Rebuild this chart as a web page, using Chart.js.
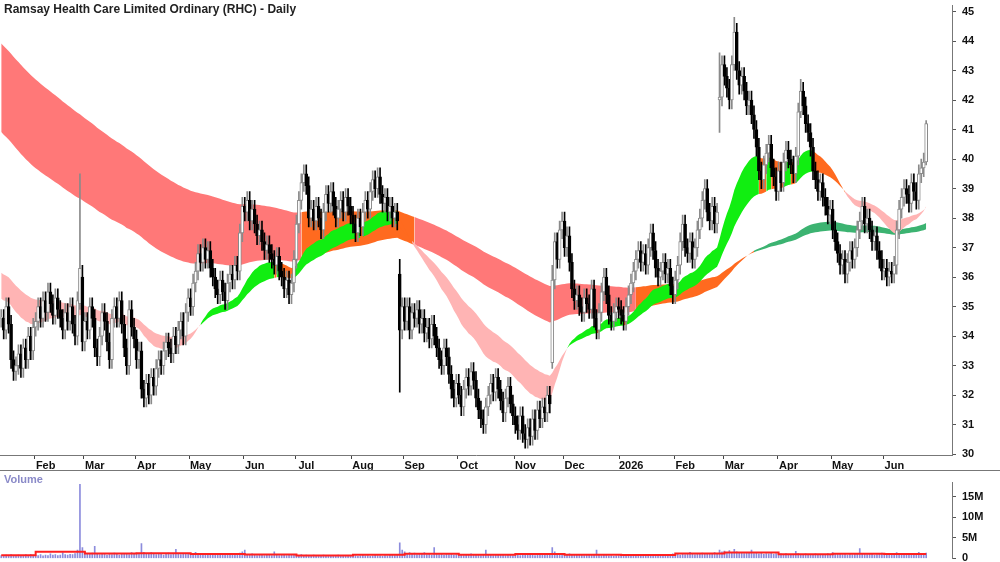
<!DOCTYPE html>
<html>
<head>
<meta charset="utf-8">
<script src="https://cdn.jsdelivr.net/npm/chart.js@4.4.1/dist/chart.umd.min.js"></script>
<style>
  body { margin: 0; background: #fff; font-family: "Liberation Sans", Arial, sans-serif; }
  #wrap { position: relative; width: 1000px; height: 562px; overflow: hidden; }
  #main { position: absolute; left: 0; top: -7px; }
  #vol { position: absolute; left: 0; top: 470px; }
  #title { position: absolute; left: 4px; top: 2px; font-size: 12px; font-weight: bold; color: #222; }
  #vlabel { position: absolute; left: 4px; top: 473px; font-size: 11px; font-weight: bold; color: #8a8ac8; }
</style>
</head>
<body>
<div id="wrap">
  <canvas id="main" width="1000" height="477"></canvas>
  <canvas id="vol" width="1000" height="101"></canvas>
  <div id="title">Ramsay Health Care Limited Ordinary (RHC) - Daily</div>
  <div id="vlabel">Volume</div>
</div>
<script>
// Meses (o primeiro é parcial, começa a 14 Jan 2025)
const monthNames = ['Jan','Feb','Mar','Apr','May','Jun','Jul','Aug','Sep','Oct','Nov','Dec','2026','Feb','Mar','Apr','May','Jun'];

// Fechos diários por mês
const closesByMonth = [
  [34.6,34.2,35.0,34.4,33.2,32.8,33.0,33.4,32.9,33.6,33.2,34.0,33.5,34.3],
  [34.5,35.0,34.6,35.2,34.8,35.5,35.1,34.7,35.3,34.9,34.6,34.2,34.8,34.5,35.0,34.4,34.0,35.2,36.3,33.8],
  [34.5,34.2,35.0,34.6,33.6,33.3,34.0,34.8,34.5,33.8,33.2,34.6,35.0,34.6,35.2,34.4,33.6,33.0,34.9,34.3,33.9],
  [33.2,33.5,32.2,31.9,32.4,32.0,32.6,32.3,32.9,33.2,33.0,33.5,33.8,33.6,33.4,34.0,33.7,34.2,34.5,34.0,34.8,35.3],
  [35.0,35.8,36.2,36.8,36.5,37.0,36.6,36.9,36.3,36.0,35.6,35.4,35.9,35.5,35.2,35.8,36.1,35.9,36.4,36.2,37.5,38.4],
  [38.2,38.6,37.9,38.3,37.8,37.4,37.6,37.2,36.9,37.1,36.8,36.6,36.4,36.7,36.2,36.0,35.6,35.9,35.4,35.8,36.6],
  [37.8,38.6,39.2,39.5,39.1,38.0,38.3,37.9,38.4,38.0,37.6,38.2,38.8,38.5,38.9,38.4,38.0,38.3,38.6,38.2,38.7,38.4,38.1],
  [37.8,37.5,38.0,37.7,38.2,38.6,38.3,38.9,39.3,39.0,39.4,38.8,38.5,38.7,38.2,38.4,38.0,38.2,37.9,34.2,35.0],
  [34.5,35.0,34.2,34.8,34.6,34.9,34.4,34.6,34.1,34.3,33.9,34.4,34.0,33.6,33.2,33.0,33.6,33.3,32.7,32.2,31.9,32.4],
  [32.0,31.6,32.2,32.6,32.3,32.8,32.5,31.9,31.5,31.2,31.0,31.6,32.0,32.4,32.1,32.6,32.2,31.8,31.4,31.9,32.3,31.7,31.3],
  [31.0,30.8,31.3,30.7,30.5,30.9,30.6,31.2,30.8,31.5,31.2,31.6,31.4,32.0,31.7,35.9,37.2,36.6,37.6,37.9],
  [37.0,37.4,36.5,35.6,35.2,35.4,35.0,34.8,35.3,35.1,34.9,35.6,34.6,34.2,34.8,35.5,36.0,35.4,34.7,34.5,34.8,35.0,34.9],
  [34.7,34.5,35.0,35.4,35.8,36.2,36.6,36.9,36.5,36.8,36.4,37.0,37.5,36.9,36.3,36.0,36.2,36.5,36.1,36.3,35.7,35.4],
  [35.9,36.4,37.2,37.8,37.0,36.8,37.2,36.6,37.0,37.6,38.0,38.6,39.0,38.2,37.9,38.4,37.8,38.2,42.1,43.2],
  [42.8,42.4,42.0,43.2,44.3,43.0,42.5,42.8,42.3,41.8,42.0,41.5,41.0,40.4,39.6,39.3,39.8,40.2,40.5,39.7,39.4,38.9],
  [39.6,39.2,39.9,40.3,40.0,39.8,39.5,40.1,41.6,42.3,41.8,41.2,40.9,40.4,39.6,39.3,38.9,39.2,38.7,38.4,38.1,38.3],
  [37.6,37.2,36.8,36.4,36.6,36.1,36.5,36.9,36.6,37.0,37.6,37.9,38.4,37.8,38.0,37.6,37.2,37.4,36.9,36.6,36.2],
  [36.3,36.0,36.2,36.1,36.4,37.6,38.3,38.7,39.0,38.8,38.5,39.2,38.9,38.6,39.5,39.7,39.9,41.2]
];

// Volume diário (milhões) por mês
const volumeByMonth = [
  [0.7,0.6,0.8,0.5,0.9,0.7,0.6,0.8,0.7,0.6,0.9,0.7,1.0,0.8],
  [0.8,0.7,0.9,0.6,0.8,0.7,1.1,0.8,0.9,0.7,0.8,1.4,0.9,0.8,1.0,0.9,1.2,2.0,18.0,2.6],
  [1.5,1.2,1.0,1.3,2.9,1.1,0.9,1.2,1.0,0.8,1.1,0.9,1.3,1.0,0.8,1.2,1.0,1.1,0.9,1.4,1.2],
  [1.3,1.0,3.6,1.5,1.2,1.1,1.4,1.0,0.9,1.2,1.1,0.8,1.0,1.3,0.9,1.1,2.2,1.0,0.9,1.2,1.0,1.1],
  [1.2,1.0,1.5,1.1,0.9,1.0,1.2,0.8,1.0,0.9,1.1,0.8,1.0,1.2,0.9,0.8,1.0,0.9,1.1,0.8,1.3,1.6],
  [2.0,1.0,0.8,1.1,0.9,0.7,0.8,1.0,0.7,0.9,0.8,0.7,1.6,0.8,0.7,0.9,0.8,0.7,1.0,0.8,0.9],
  [0.8,0.7,0.9,0.6,0.8,0.7,0.6,0.8,0.7,0.6,0.7,0.8,0.6,0.7,0.5,0.6,0.7,0.8,0.6,0.7,0.5,0.6,0.7],
  [0.6,0.7,0.5,0.6,0.8,0.6,0.7,0.5,0.6,0.8,0.7,0.6,0.5,0.7,0.6,0.8,0.9,0.7,1.0,3.8,2.0],
  [1.6,1.2,1.4,1.0,1.3,0.9,1.1,1.0,1.4,0.9,1.0,0.8,2.6,1.0,0.9,1.1,0.8,1.0,0.9,1.2,0.8,0.9],
  [0.8,0.9,0.7,1.0,0.8,1.1,0.9,0.8,1.0,0.7,0.9,2.0,0.8,0.9,0.7,0.8,1.0,0.9,0.8,0.7,0.9,0.8,0.7],
  [0.8,0.9,0.7,1.0,0.8,0.9,1.1,0.8,0.7,0.9,1.2,0.8,1.0,0.9,1.1,2.6,1.6,1.2,1.0,1.1],
  [1.0,0.9,1.1,0.8,1.0,0.9,0.8,1.0,0.7,0.9,1.0,0.8,0.9,2.0,0.8,0.7,0.9,0.8,0.6,0.7,0.5,0.6,0.7],
  [0.7,0.8,0.6,0.9,0.7,0.8,0.6,0.7,0.9,0.8,0.7,1.0,0.8,0.9,0.7,0.8,0.9,0.7,1.0,0.8,0.9,1.1],
  [0.9,1.0,0.8,1.1,0.9,1.0,1.5,1.0,0.9,1.2,1.0,1.3,1.1,1.0,1.2,1.1,1.4,1.2,2.0,1.6],
  [1.8,1.5,1.9,1.4,2.2,1.6,1.3,1.4,1.2,1.5,1.3,2.0,1.2,1.4,1.1,1.3,1.0,1.2,1.1,1.3,1.0,1.2],
  [1.0,1.1,0.9,1.2,1.0,0.8,1.0,1.7,1.2,1.0,0.9,1.1,0.8,1.0,0.9,1.1,1.0,0.8,0.9,1.0,1.2,1.0],
  [1.4,1.1,1.0,1.2,0.9,1.0,0.8,1.0,0.9,1.1,1.0,2.4,1.2,1.0,0.9,1.1,1.0,0.8,0.9,1.2,1.3],
  [1.0,1.1,0.9,1.2,1.0,1.4,1.1,1.0,0.9,1.1,1.0,0.9,1.0,1.1,1.5,1.0,1.2,1.3]
];

// Velas especiais: índice -> [abertura, máximo, mínimo]
const candleOverrides = {
  32: [35.1, 39.5, 34.9],
  33: [36.0, 36.4, 33.5],
  162: [36.1, 36.6, 32.1],
  224: [33.1, 36.4, 32.9],
  292: [42.0, 43.6, 40.9],
  298: [43.2, 44.8, 43.0],
  325: [41.6, 42.7, 41.4],
  376: [39.9, 41.3, 39.8]
};

// Valores iniciais das médias (histórico anterior ao gráfico)
const emaSeeds = { shortFast: 35.3, shortSlow: 36.2, longFast: 41.0, longSlow: 44.0 };
const emaPeriods = { shortFast: 35, shortSlow: 60, longFast: 150, longSlow: 220 };
const longGreenFrom = 306;   // a partir de ~meados de Mar 2026 a fita longa fica verde
const padDays = 10;          // espaço vazio à direita
const priceTicks = [30,31,32,33,34,35,36,37,38,39,40,41,42,43,44,45];
const volumeTicks = [0, 5, 10, 15];

// Construção das séries
const labels = [];
const monthOf = [];
const closes = [];
const volumes = [];
const monthAvgVol = [];
closesByMonth.forEach((m, mi) => {
  const vols = volumeByMonth[mi];
  const avg = vols.reduce((a, b) => a + b, 0) / vols.length;
  m.forEach((c, di) => {
    labels.push(monthNames[mi] + '-' + di);
    monthOf.push(mi);
    closes.push(c);
    volumes.push(vols[di] !== undefined ? vols[di] : null);
    monthAvgVol.push(Math.min(avg, 1.6));
  });
});
const nReal = closes.length;
for (let i = 0; i < padDays; i++) { labels.push(''); monthOf.push(-1); }

const opens = [], highs = [], lows = [];
closes.forEach((c, i) => {
  const o = candleOverrides[i] ? candleOverrides[i][0] : (i > 0 ? closes[i - 1] : c);
  opens.push(o);
  highs.push(candleOverrides[i] ? candleOverrides[i][1] : Math.max(o, c) + 0.3);
  lows.push(candleOverrides[i] ? candleOverrides[i][2] : Math.min(o, c) - 0.3);
});

function ema(period, seed) {
  const k = 2 / (period + 1);
  let v = seed;
  return closes.map(c => (v = v + k * (c - v)));
}
const shortFast = ema(emaPeriods.shortFast, emaSeeds.shortFast);
const shortSlow = ema(emaPeriods.shortSlow, emaSeeds.shortSlow);
const longFast = ema(emaPeriods.longFast, emaSeeds.longFast);
const longSlow = ema(emaPeriods.longSlow, emaSeeds.longSlow);

const shortColor = i => shortFast[i] < shortSlow[i] ? '#ffb4b4'
  : (i === 0 || shortFast[i] >= shortFast[i - 1] - 0.005 ? '#11ee11' : '#ff6a1f');
// fita longa: verde na fase final, laranja com a fita curta acima da sua base, senão vermelha
const longColor = i => i >= longGreenFrom ? '#3cb371'
  : (shortFast[i] > Math.min(longFast[i], longSlow[i]) ? '#ff6a1f' : '#ff7878');

// Fita entre duas médias, dividida em segmentos da mesma cor
function ribbonSets(fast, slow, colorAt, order) {
  const sets = [];
  let start = 0;
  for (let i = 1; i <= nReal; i++) {
    if (i === nReal || colorAt(i) !== colorAt(start)) {
      const end = Math.min(i, nReal - 1);
      const col = colorAt(start);
      const inSeg = k => k >= start && k <= end;
      sets.push({ type: 'line', data: labels.map((_, k) => inSeg(k) ? slow[k] : null),
        borderWidth: 0, pointRadius: 0, fill: false, order });
      sets.push({ type: 'line', data: labels.map((_, k) => inSeg(k) ? fast[k] : null),
        borderWidth: 0, pointRadius: 0, fill: '-1', backgroundColor: col, order });
      start = i;
    }
  }
  return sets;
}

const up = closes.map((c, i) => c >= opens[i]);

const axisFont = { family: 'Liberation Sans, Arial', size: 11, weight: 'bold' };
const monthStart = i => i > 0 && monthOf[i] >= 0 && monthOf[i] !== monthOf[i - 1];

new Chart(document.getElementById('main'), {
  type: 'bar',
  data: {
    labels,
    datasets: [
      {
        data: closes.map((c, i) => [Math.min(opens[i], c), Math.max(opens[i], c)]),
        backgroundColor: up.map(u => u ? '#ffffff' : '#000000'),
        borderColor: up.map(u => u ? '#8a8a8a' : '#000000'),
        borderWidth: 1, borderSkipped: false, barThickness: 3, minBarLength: 1,
        grouped: false, order: 0
      },
      {
        data: closes.map((c, i) => [lows[i], highs[i]]),
        backgroundColor: up.map(u => u ? '#8a8a8a' : '#000000'),
        barThickness: 1, grouped: false, order: 1
      },
      ...ribbonSets(shortFast, shortSlow, shortColor, 6),
      ...ribbonSets(longFast, longSlow, longColor, 7)
    ]
  },
  options: {
    responsive: false, animation: false,
    layout: { padding: 0 },
    plugins: { legend: { display: false }, tooltip: { enabled: false } },
    scales: {
      x: {
        offset: true,
        afterFit: s => { s.height = 15; },
        grid: {
          drawOnChartArea: false, tickLength: 4,
          color: ctx => monthStart(ctx.index) ? '#444' : 'rgba(0,0,0,0)'
        },
        border: { color: '#777' },
        ticks: {
          autoSkip: false, maxRotation: 0, labelOffset: 10, padding: 0,
          font: axisFont, color: '#111',
          callback: (v, i) => monthStart(i) ? monthNames[monthOf[i]] : ''
        }
      },
      y: {
        position: 'right', min: 29.97, max: 45.2,
        afterFit: s => { s.width = 48; },
        afterBuildTicks: s => { s.ticks = priceTicks.map(v => ({ value: v })); },
        grid: { drawOnChartArea: false, tickLength: 4, color: '#555' },
        border: { color: '#777' },
        ticks: { font: axisFont, color: '#111', padding: 6 }
      }
    }
  }
});

new Chart(document.getElementById('vol'), {
  type: 'bar',
  data: {
    labels,
    datasets: [
      {
        type: 'line', data: monthAvgVol, borderColor: '#ff2020', borderWidth: 2,
        pointRadius: 0, stepped: true, order: 0
      },
      {
        data: volumes, backgroundColor: '#8c8cdc', barThickness: 1, order: 1
      }
    ]
  },
  options: {
    responsive: false, animation: false,
    layout: { padding: 0 },
    plugins: { legend: { display: false }, tooltip: { enabled: false } },
    scales: {
      x: { offset: true, display: false },
      y: {
        position: 'right', min: 0, max: 18.4,
        afterFit: s => { s.width = 48; },
        afterBuildTicks: s => { s.ticks = volumeTicks.map(v => ({ value: v })); },
        grid: { drawOnChartArea: false, tickLength: 4, color: '#555' },
        border: { color: '#777' },
        ticks: { font: axisFont, color: '#111', padding: 6,
          callback: v => v === 0 ? '0' : v + 'M' }
      }
    }
  },
  plugins: [{
    id: 'topLine',
    afterDraw: c => {
      const g = c.ctx;
      g.save(); g.strokeStyle = '#777'; g.lineWidth = 1;
      g.beginPath(); g.moveTo(0, 0.5); g.lineTo(1000, 0.5); g.stroke(); g.restore();
    }
  }]
});
</script>
</body>
</html>
